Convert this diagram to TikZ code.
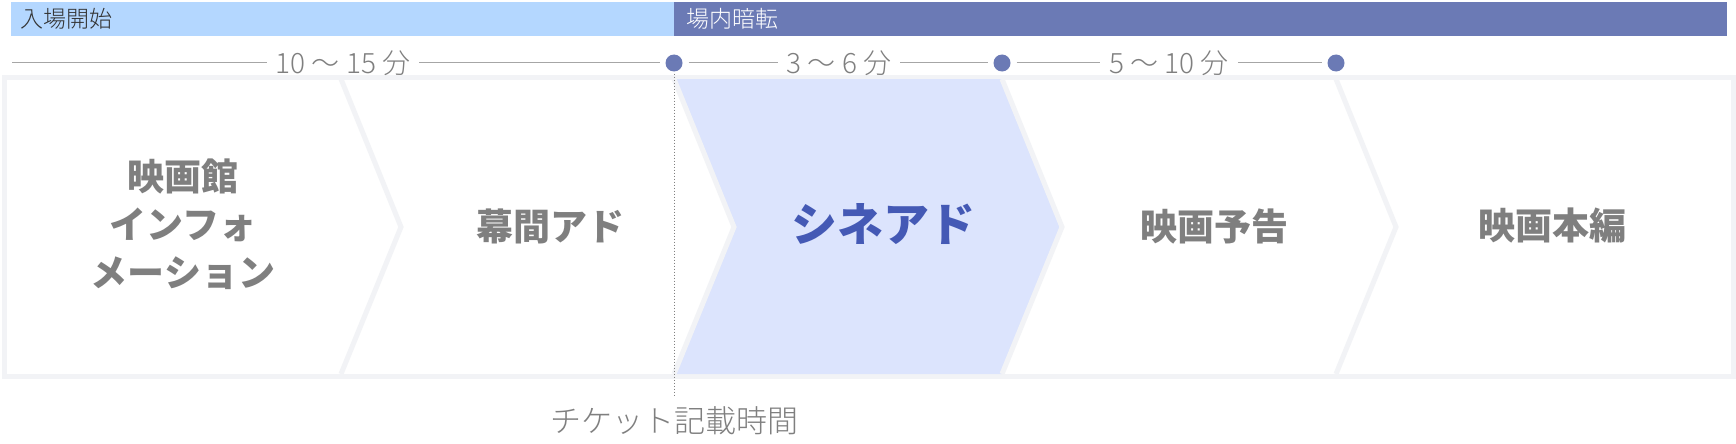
\documentclass[tikz,border=0pt]{standalone}
\usepackage{fontspec}
\newfontfamily\jp{Noto Sans CJK JP}
\newfontfamily\jplight{Noto Sans CJK JP Light}
\usetikzlibrary{calc,positioning}
\definecolor{barlight}{HTML}{B4D7FF}
\definecolor{bardark}{HTML}{6B7AB5}
\definecolor{framegray}{HTML}{F2F3F6}
\definecolor{cinefill}{HTML}{DCE4FD}
\definecolor{cinetext}{HTML}{4459B5}
\definecolor{labgray}{HTML}{7F7F7F}
\definecolor{rulegray}{HTML}{A6A6A6}

\begin{document}
\begin{tikzpicture}[x=1pt,y=-1pt,
	stage/.style={font=\jp\bfseries\fontsize{37}{48}\selectfont, text=labgray, align=center},
	span/.style={font=\jplight\fontsize{28}{28}\selectfont, text=labgray, inner sep=9pt},
	dot/.style={circle, fill=bardark, minimum size=17pt, inner sep=0pt, outer sep=6pt},
	sep/.style={draw=framegray, line width=5pt}]
				\useasboundingbox (0,0) rectangle (1736,444);
				
				\fill[barlight] (11,2) rectangle (674,36);
				\fill[bardark] (674,2) rectangle (1727,36);
				\node[anchor=west, font=\jplight\fontsize{23}{23}\selectfont, text=black!80, inner sep=0pt] (open) at (20,19) {入場開始};
				\node[anchor=west, font=\jplight\fontsize{23}{23}\selectfont, text=white, inner sep=0pt] (dark) at (686,19) {場内暗転};
				
				\draw[sep, fill=white] (4,77) rectangle (1733,376);
				\fill[cinefill] (674,79) -- (734,227) -- (674,374) -- (1002,374) -- (1062,227) -- (1002,79) -- cycle;
				\foreach \x in {341,674,1002,1336}{
					\draw[sep] (\x,79) -- ($(\x,227)+(60,0)$) -- (\x,374);}
				
				\node[stage] (info) at (183,224) {映画館\\インフォ\\メーション};
				\node[stage] (interval) at (550,226) {幕間アド};
				\node[stage, text=cinetext, font=\jp\bfseries\fontsize{46}{46}\selectfont] (cine) at (883,224) {シネアド};
				\node[stage] (trailer) at (1214,226) {映画予告};
				\node[stage] (feature) at (1552,226) {映画本編};
				
				\coordinate (s0) at (12,63);
				\node[span] (t1) at (343,63) {10 〜 15 分};
				\node[dot] (d1) at (674,63) {};
				\node[span] (t2) at (839,63) {3 〜 6 分};
				\node[dot] (d2) at (1002,63) {};
				\node[span] (t3) at (1169,63) {5 〜 10 分};
				\node[dot] (d3) at (1336,63) {};
				\draw[rulegray, line width=1pt] (s0) -- (t1) (t1) -- (d1) (d1) -- (t2) (t2) -- (d2) (d2) -- (t3) (t3) -- (d3);
				
				\node[font=\jplight\fontsize{31}{31}\selectfont, text=labgray] (ticket) at (674,421) {チケット記載時間};
				\draw[gray, dotted, line width=1pt, shorten <=-4pt, shorten >=8pt] (d1) -- (ticket);
			\end{tikzpicture}
\end{document}
